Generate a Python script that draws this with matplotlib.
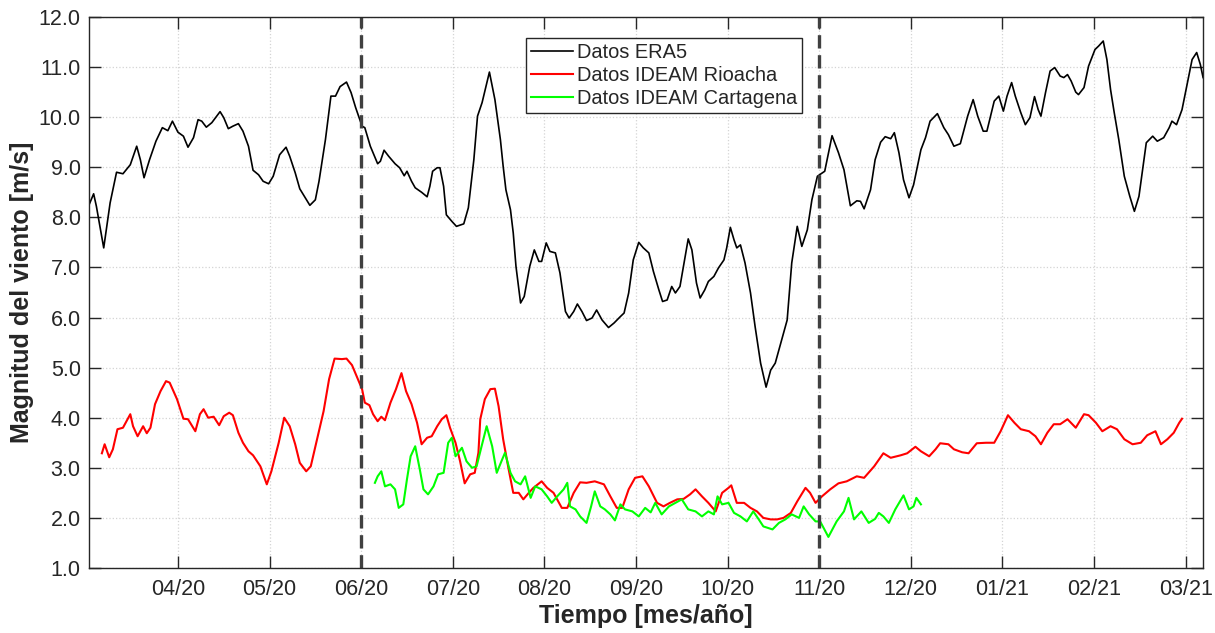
import matplotlib
matplotlib.use("Agg")
import matplotlib.pyplot as plt

plt.rcParams["font.family"] = ["Liberation Sans", "DejaVu Sans"]

INK = "#262626"
GRID = "#d4d4d4"

# x axis in "month positions": 04/20 = 1, 05/20 = 2, ... 03/21 = 12
MONTH_LABELS = ["04/20", "05/20", "06/20", "07/20", "08/20", "09/20",
                "10/20", "11/20", "12/20", "01/21", "02/21", "03/21"]
MONTH_POS = list(range(1, 13))
SPLIT_POS = [3, 8]  # 06/20 and 11/20

era5_t = [0.03, 0.08, 0.11, 0.19, 0.26, 0.33, 0.40, 0.48, 0.55, 0.59, 0.63, 0.69,
          0.76, 0.83, 0.89, 0.94, 1.00, 1.06, 1.11, 1.17, 1.22, 1.26, 1.31, 1.37,
          1.46, 1.50, 1.55, 1.60, 1.66, 1.71, 1.77, 1.82, 1.88, 1.93, 1.99, 2.04,
          2.11, 2.18, 2.22, 2.28, 2.33, 2.39, 2.44, 2.50, 2.54, 2.61, 2.67, 2.72,
          2.77, 2.84, 2.89, 2.94, 3.01, 3.04, 3.10, 3.13, 3.18, 3.21, 3.25, 3.30,
          3.37, 3.42, 3.47, 3.50, 3.55, 3.59, 3.66, 3.72, 3.75, 3.78, 3.83, 3.86,
          3.90, 3.93, 3.99, 4.04, 4.12, 4.17, 4.23, 4.27, 4.32, 4.40, 4.46, 4.52,
          4.55, 4.58, 4.63, 4.66, 4.69, 4.74, 4.78, 4.84, 4.89, 4.94, 4.97, 5.02,
          5.06, 5.12, 5.17, 5.23, 5.27, 5.32, 5.36, 5.41, 5.46, 5.52, 5.57, 5.63,
          5.70, 5.76, 5.83, 5.87, 5.92, 5.97, 6.03, 6.08, 6.14, 6.19, 6.25, 6.29,
          6.34, 6.39, 6.43, 6.48, 6.53, 6.57, 6.61, 6.66, 6.70, 6.75, 6.79, 6.85,
          6.90, 6.96, 6.99, 7.03, 7.07, 7.10, 7.14, 7.19, 7.25, 7.30, 7.36, 7.42,
          7.47, 7.52, 7.58, 7.65, 7.70, 7.76, 7.81, 7.87, 7.92, 7.98, 8.06, 8.14,
          8.21, 8.27, 8.34, 8.41, 8.45, 8.49, 8.56, 8.61, 8.67, 8.72, 8.78, 8.82,
          8.87, 8.92, 8.98, 9.03, 9.11, 9.16, 9.21, 9.29, 9.36, 9.41, 9.47, 9.54,
          9.62, 9.68, 9.73, 9.79, 9.83, 9.91, 9.96, 10.01, 10.05, 10.10, 10.14, 10.20,
          10.25, 10.30, 10.35, 10.39, 10.42, 10.47, 10.52, 10.57, 10.63, 10.67, 10.71, 10.75,
          10.80, 10.83, 10.89, 10.94, 11.01, 11.05, 11.10, 11.14, 11.18, 11.22, 11.27, 11.33,
          11.39, 11.44, 11.49, 11.53, 11.57, 11.64, 11.69, 11.76, 11.82, 11.85, 11.90, 11.96,
          12.02, 12.07, 12.12, 12.16, 12.19]
era5_v = [8.25, 8.47, 8.22, 7.39, 8.29, 8.90, 8.87, 9.05, 9.42, 9.15, 8.79, 9.15,
          9.52, 9.79, 9.73, 9.92, 9.70, 9.62, 9.40, 9.59, 9.95, 9.92, 9.80, 9.89,
          10.11, 9.99, 9.77, 9.82, 9.87, 9.72, 9.42, 8.94, 8.85, 8.72, 8.67, 8.82,
          9.25, 9.40, 9.22, 8.89, 8.57, 8.39, 8.24, 8.35, 8.72, 9.55, 10.42, 10.42,
          10.61, 10.70, 10.49, 10.19, 9.82, 9.79, 9.42, 9.29, 9.07, 9.12, 9.34, 9.22,
          9.07, 8.99, 8.83, 8.92, 8.72, 8.59, 8.50, 8.41, 8.62, 8.92, 8.99, 8.99,
          8.62, 8.05, 7.92, 7.82, 7.87, 8.19, 9.15, 10.02, 10.29, 10.90, 10.35, 9.55,
          9.02, 8.55, 8.15, 7.69, 7.02, 6.29, 6.42, 7.02, 7.35, 7.12, 7.12, 7.49,
          7.32, 7.29, 6.89, 6.12, 5.99, 6.12, 6.27, 6.12, 5.94, 5.99, 6.15, 5.95,
          5.80, 5.89, 6.02, 6.09, 6.49, 7.15, 7.50, 7.39, 7.29, 6.92, 6.55, 6.32,
          6.35, 6.62, 6.49, 6.62, 7.15, 7.57, 7.35, 6.69, 6.39, 6.55, 6.72, 6.82,
          6.99, 7.15, 7.39, 7.80, 7.55, 7.39, 7.45, 7.09, 6.49, 5.82, 5.09, 4.61,
          4.95, 5.09, 5.49, 5.95, 7.09, 7.82, 7.42, 7.75, 8.35, 8.82, 8.92, 9.63,
          9.29, 8.95, 8.23, 8.33, 8.32, 8.17, 8.55, 9.15, 9.50, 9.61, 9.57, 9.69,
          9.29, 8.75, 8.39, 8.65, 9.35, 9.59, 9.92, 10.07, 9.79, 9.65, 9.42, 9.47,
          10.02, 10.35, 10.02, 9.72, 9.72, 10.32, 10.42, 10.12, 10.42, 10.69, 10.42, 10.09,
          9.85, 9.99, 10.41, 10.15, 10.02, 10.49, 10.92, 10.99, 10.82, 10.79, 10.85, 10.72,
          10.50, 10.45, 10.59, 11.02, 11.35, 11.42, 11.52, 11.15, 10.55, 10.09, 9.55, 8.82,
          8.42, 8.12, 8.42, 8.95, 9.49, 9.62, 9.52, 9.59, 9.79, 9.92, 9.85, 10.15,
          10.69, 11.15, 11.29, 11.05, 10.79]

rioacha_t = [0.17, 0.20, 0.25, 0.29, 0.34, 0.40, 0.48, 0.51, 0.56, 0.62, 0.66, 0.70,
             0.75, 0.81, 0.87, 0.91, 0.99, 1.06, 1.11, 1.19, 1.24, 1.28, 1.33, 1.39,
             1.45, 1.50, 1.56, 1.60, 1.66, 1.71, 1.77, 1.82, 1.90, 1.97, 2.02, 2.10,
             2.16, 2.22, 2.28, 2.33, 2.40, 2.45, 2.51, 2.59, 2.65, 2.71, 2.79, 2.84,
             2.90, 2.95, 3.01, 3.04, 3.09, 3.13, 3.18, 3.22, 3.26, 3.32, 3.38, 3.44,
             3.49, 3.55, 3.61, 3.66, 3.72, 3.77, 3.83, 3.88, 3.93, 3.97, 4.03, 4.08,
             4.13, 4.19, 4.24, 4.28, 4.30, 4.35, 4.41, 4.46, 4.50, 4.55, 4.61, 4.66,
             4.72, 4.77, 4.83, 4.88, 4.97, 5.03, 5.10, 5.19, 5.25, 5.32, 5.39, 5.46,
             5.55, 5.65, 5.72, 5.79, 5.85, 5.92, 5.99, 6.07, 6.14, 6.23, 6.30, 6.37,
             6.45, 6.52, 6.59, 6.65, 6.72, 6.79, 6.87, 6.94, 7.01, 7.04, 7.10, 7.18,
             7.25, 7.32, 7.39, 7.47, 7.54, 7.61, 7.69, 7.76, 7.85, 7.90, 7.96, 8.03,
             8.12, 8.21, 8.30, 8.41, 8.49, 8.60, 8.70, 8.78, 8.89, 8.96, 9.05, 9.11,
             9.20, 9.27, 9.32, 9.41, 9.47, 9.56, 9.63, 9.72, 9.82, 9.91, 9.98, 10.06,
             10.13, 10.20, 10.29, 10.36, 10.42, 10.49, 10.56, 10.63, 10.71, 10.80, 10.89, 10.94,
             11.02, 11.09, 11.18, 11.25, 11.33, 11.42, 11.51, 11.58, 11.67, 11.73, 11.80, 11.87,
             11.93, 11.96]
rioacha_v = [3.29, 3.47, 3.21, 3.37, 3.77, 3.80, 4.07, 3.83, 3.63, 3.83, 3.69, 3.80,
             4.27, 4.53, 4.73, 4.70, 4.37, 3.98, 3.97, 3.73, 4.07, 4.17, 4.00, 4.02,
             3.85, 4.03, 4.10, 4.05, 3.70, 3.50, 3.33, 3.25, 3.03, 2.67, 2.93, 3.50,
             4.00, 3.83, 3.47, 3.10, 2.93, 3.03, 3.50, 4.13, 4.77, 5.18, 5.17, 5.18,
             5.05, 4.83, 4.57, 4.30, 4.25, 4.07, 3.93, 4.02, 3.95, 4.30, 4.57, 4.89,
             4.53, 4.27, 3.90, 3.47, 3.60, 3.63, 3.83, 3.97, 4.05, 3.80, 3.50, 3.13,
             2.69, 2.87, 2.90, 3.30, 3.97, 4.37, 4.57, 4.58, 4.23, 3.57, 2.97, 2.50,
             2.50, 2.37, 2.50, 2.60, 2.73, 2.60, 2.50, 2.20, 2.20, 2.50, 2.71, 2.70,
             2.73, 2.67, 2.43, 2.20, 2.20, 2.57, 2.80, 2.83, 2.63, 2.30, 2.23, 2.30,
             2.37, 2.38, 2.47, 2.57, 2.43, 2.30, 2.13, 2.50, 2.60, 2.65, 2.30, 2.30,
             2.20, 2.13, 2.00, 1.97, 1.97, 2.00, 2.10, 2.33, 2.60, 2.50, 2.30, 2.43,
             2.57, 2.69, 2.73, 2.83, 2.80, 3.03, 3.29, 3.20, 3.25, 3.29, 3.42, 3.33,
             3.23, 3.37, 3.49, 3.47, 3.37, 3.31, 3.29, 3.49, 3.50, 3.50, 3.73, 4.05,
             3.90, 3.77, 3.73, 3.63, 3.47, 3.70, 3.87, 3.87, 3.97, 3.80, 4.07, 4.05,
             3.90, 3.73, 3.83, 3.77, 3.57, 3.47, 3.50, 3.65, 3.73, 3.47, 3.57, 3.70,
             3.90, 3.98]

cartagena_t = [3.15, 3.18, 3.22, 3.26, 3.32, 3.37, 3.41, 3.46, 3.50, 3.54, 3.59, 3.64,
               3.68, 3.73, 3.79, 3.84, 3.90, 3.95, 3.99, 4.03, 4.10, 4.15, 4.21, 4.26,
               4.32, 4.37, 4.43, 4.48, 4.54, 4.57, 4.63, 4.68, 4.74, 4.79, 4.85, 4.90,
               4.97, 5.03, 5.08, 5.14, 5.21, 5.25, 5.28, 5.34, 5.39, 5.46, 5.51, 5.55,
               5.61, 5.66, 5.72, 5.77, 5.83, 5.88, 5.96, 6.03, 6.10, 6.16, 6.21, 6.28,
               6.36, 6.43, 6.50, 6.57, 6.65, 6.72, 6.79, 6.85, 6.89, 6.94, 7.01, 7.07,
               7.14, 7.21, 7.28, 7.34, 7.39, 7.49, 7.56, 7.63, 7.70, 7.78, 7.83, 7.89,
               7.96, 8.01, 8.10, 8.19, 8.27, 8.32, 8.38, 8.46, 8.54, 8.61, 8.65, 8.70,
               8.76, 8.83, 8.92, 8.98, 9.03, 9.06, 9.11]
cartagena_v = [2.70, 2.83, 2.93, 2.63, 2.67, 2.57, 2.20, 2.27, 2.77, 3.23, 3.43, 2.97,
               2.57, 2.47, 2.63, 2.87, 2.90, 3.50, 3.60, 3.23, 3.40, 3.13, 3.00, 3.03,
               3.47, 3.83, 3.43, 2.90, 3.17, 3.30, 2.90, 2.73, 2.67, 2.83, 2.40, 2.63,
               2.57, 2.43, 2.30, 2.43, 2.57, 2.70, 2.23, 2.17, 2.03, 1.90, 2.23, 2.53,
               2.23, 2.17, 2.07, 1.95, 2.27, 2.17, 2.13, 2.03, 2.20, 2.11, 2.30, 2.07,
               2.23, 2.30, 2.37, 2.17, 2.13, 2.03, 2.13, 2.07, 2.43, 2.27, 2.30, 2.10,
               2.03, 1.93, 2.13, 1.97, 1.83, 1.77, 1.90, 1.97, 2.07, 2.00, 2.23, 2.07,
               1.93, 1.93, 1.62, 1.93, 2.13, 2.40, 1.97, 2.13, 1.90, 1.98, 2.10, 2.03,
               1.90, 2.17, 2.45, 2.17, 2.23, 2.40, 2.27]

fig = plt.figure(figsize=(12.15, 6.33), dpi=100, facecolor="white")
ax = fig.add_axes([0.0733, 0.1027, 0.9169, 0.8705])

ax.plot(era5_t, era5_v, color="black", lw=1.2, label="Datos ERA5")
ax.plot(rioacha_t, rioacha_v, color="#ff0000", lw=1.5, label="Datos IDEAM Rioacha")
ax.plot(cartagena_t, cartagena_v, color="#00ff00", lw=1.5, label="Datos IDEAM Cartagena")
for xv in SPLIT_POS:
    ax.axvline(xv, color="#404040", lw=2.4, dashes=(4, 2))

ax.set_xlim(0.03, 12.19)
ax.set_ylim(1, 12)
ax.set_xticks(MONTH_POS, MONTH_LABELS)
ax.set_yticks(range(1, 13), [f"{v:.1f}" for v in range(1, 13)])
ax.tick_params(direction="in", length=8.5, width=1, colors=INK, labelsize=15.5,
               top=True, right=True)
ax.tick_params(axis="x", pad=8)
ax.tick_params(axis="y", pad=6)
for s in ax.spines.values():
    s.set_color(INK)
    s.set_linewidth(1)
ax.grid(True, color=GRID, linestyle=":", linewidth=0.9)
ax.set_axisbelow(True)

ax.set_xlabel("Tiempo [mes/año]", fontsize=18, fontweight="bold", color=INK, labelpad=3)
ax.set_ylabel("Magnitud del viento [m/s]", fontsize=18, fontweight="bold", color=INK, labelpad=3)

leg = ax.legend(loc="upper left", bbox_to_anchor=(0.392, 0.962), borderaxespad=0,
                fontsize=14.4, handlelength=2.1, handletextpad=0.2, labelspacing=0.2,
                borderpad=0.25, fancybox=False, framealpha=1, edgecolor=INK)
leg.get_frame().set_linewidth(1)
for t in leg.get_texts():
    t.set_color(INK)

fig.savefig("out.png", dpi=100, facecolor="white")
